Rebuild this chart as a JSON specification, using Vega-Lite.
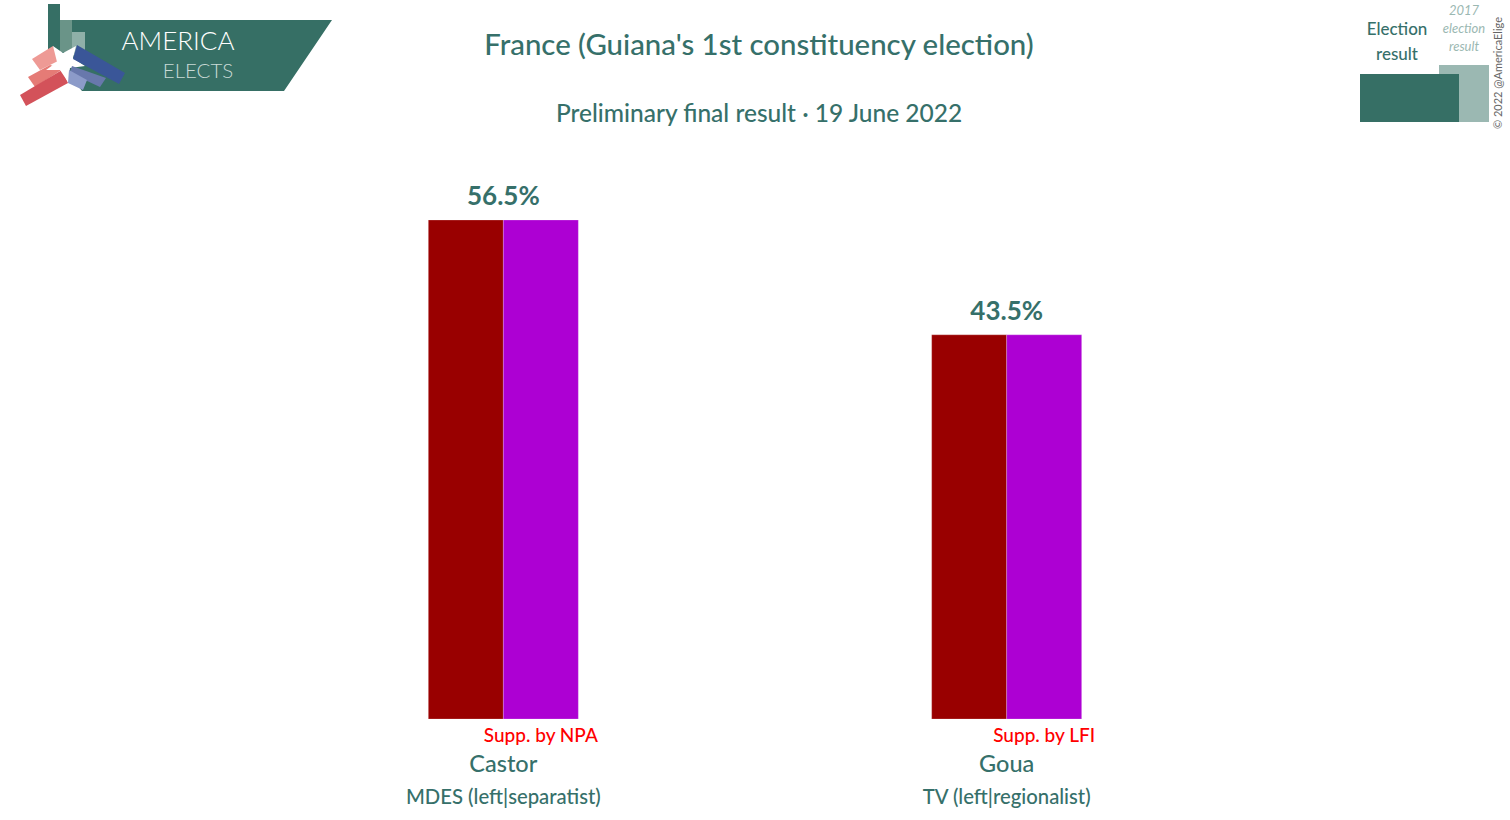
{
  "$schema": "https://vega.github.io/schema/vega-lite/v6.json",
  "width": 1510,
  "height": 820,
  "autosize": {"type": "none"},
  "padding": 0,
  "background": "#ffffff",
  "config": {"view": {"stroke": null}, "font": "Lato"},
  "title": {
    "text": "France (Guiana's 1st constituency election)",
    "subtitle": "Preliminary final result · 19 June 2022",
    "anchor": "middle",
    "frame": "group",
    "dx": 4,
    "offset": -127,
    "font": "Lato",
    "fontSize": 29.4,
    "fontWeight": 500,
    "color": "#36706a",
    "subtitleFont": "Lato",
    "subtitleFontSize": 24.5,
    "subtitleFontWeight": 500,
    "subtitleColor": "#36706a",
    "subtitlePadding": 41
  },
  "datasets": {
    "segments": [
      {"candidate": "Castor", "segment": "party", "share": 56.5, "support": null},
      {"candidate": "Castor", "segment": "supporter", "share": 56.5, "support": "Supp. by NPA"},
      {"candidate": "Goua", "segment": "party", "share": 43.5, "support": null},
      {"candidate": "Goua", "segment": "supporter", "share": 43.5, "support": "Supp. by LFI"}
    ],
    "candidates": [
      {"candidate": "Castor", "share": 56.5, "label": "56.5%", "party": "MDES (left|separatist)"},
      {"candidate": "Goua", "share": 43.5, "label": "43.5%", "party": "TV (left|regionalist)"}
    ],
    "decor": [
      {"type": "Feature", "properties": {"part": "green"}, "geometry": {"type": "Polygon", "coordinates": [[[48, 4], [60, 4], [60, 20], [332, 20], [284, 91], [82, 91], [48, 50], [48, 4]]]}},
      {"type": "Feature", "properties": {"part": "column2"}, "geometry": {"type": "Polygon", "coordinates": [[[60, 20], [72, 20], [72, 52], [60, 52], [60, 20]]]}},
      {"type": "Feature", "properties": {"part": "column3"}, "geometry": {"type": "Polygon", "coordinates": [[[72, 32], [85, 32], [85, 55], [72, 55], [72, 32]]]}},
      {"type": "Feature", "properties": {"part": "red1"}, "geometry": {"type": "Polygon", "coordinates": [[[32, 59], [53, 46], [60, 60], [40, 70], [32, 59]]]}},
      {"type": "Feature", "properties": {"part": "red2"}, "geometry": {"type": "Polygon", "coordinates": [[[28, 77], [50, 65], [63, 69], [35, 87], [28, 77]]]}},
      {"type": "Feature", "properties": {"part": "red3"}, "geometry": {"type": "Polygon", "coordinates": [[[20, 95], [62, 70], [68, 83], [26, 106], [20, 95]]]}},
      {"type": "Feature", "properties": {"part": "star"}, "geometry": {"type": "Polygon", "coordinates": [[[53, 46], [63, 53], [76, 46], [73, 58], [85, 66], [70, 68], [68, 82], [60, 70], [46, 70], [57, 62], [53, 46]]]}},
      {"type": "Feature", "properties": {"part": "blue2"}, "geometry": {"type": "Polygon", "coordinates": [[[72, 66], [106, 78], [100, 87], [85, 80], [70, 72], [72, 66]]]}},
      {"type": "Feature", "properties": {"part": "blue3"}, "geometry": {"type": "Polygon", "coordinates": [[[69, 70], [87, 80], [83, 90], [68, 83], [69, 70]]]}},
      {"type": "Feature", "properties": {"part": "blue1"}, "geometry": {"type": "Polygon", "coordinates": [[[77, 45], [125, 73], [119, 84], [73, 59], [77, 45]]]}},
      {"type": "Feature", "properties": {"part": "previous"}, "geometry": {"type": "Polygon", "coordinates": [[[1439, 65], [1489, 65], [1489, 122], [1439, 122], [1439, 65]]]}},
      {"type": "Feature", "properties": {"part": "green"}, "geometry": {"type": "Polygon", "coordinates": [[[1360, 74], [1459, 74], [1459, 122], [1360, 122], [1360, 74]]]}}
    ]
  },
  "data": {"name": "segments"},
  "resolve": {"scale": {"color": "independent"}},
  "layer": [
    {
      "data": {"name": "decor"},
      "mark": {"type": "geoshape", "strokeWidth": 0},
      "projection": {"type": "identity", "scale": 1, "translate": [0, 0]},
      "encoding": {
        "color": {
          "field": "properties.part",
          "type": "nominal",
          "legend": null,
          "scale": {
            "domain": ["green", "column2", "column3", "red1", "red2", "red3", "star", "blue1", "blue2", "blue3", "previous"],
            "range": ["#366f65", "#6a9488", "#8fb0a8", "#ee9a95", "#e57b76", "#d3525a", "#ffffff", "#3a5698", "#6878ac", "#8c9bc9", "#9bb8b2"]
          }
        }
      }
    },
    {
      "data": {"values": [{"text": "AMERICA", "lon": 178, "lat": 42}]},
      "mark": {"type": "text", "fontSize": 26, "fontWeight": 300, "color": "#ffffff", "baseline": "middle"},
      "projection": {"type": "identity", "scale": 1, "translate": [0, 0]},
      "encoding": {"longitude": {"field": "lon", "type": "quantitative"}, "latitude": {"field": "lat", "type": "quantitative"}, "text": {"field": "text"}}
    },
    {
      "data": {"values": [{"text": "ELECTS", "lon": 198, "lat": 72}]},
      "mark": {"type": "text", "fontSize": 20.5, "fontWeight": 300, "color": "#c9dad6", "baseline": "middle"},
      "projection": {"type": "identity", "scale": 1, "translate": [0, 0]},
      "encoding": {"longitude": {"field": "lon", "type": "quantitative"}, "latitude": {"field": "lat", "type": "quantitative"}, "text": {"field": "text"}}
    },
    {
      "data": {"values": [{"text": "Election", "lon": 1397, "lat": 30}, {"text": "result", "lon": 1397, "lat": 55}]},
      "mark": {"type": "text", "fontSize": 17, "fontWeight": 500, "color": "#36706a", "baseline": "middle"},
      "projection": {"type": "identity", "scale": 1, "translate": [0, 0]},
      "encoding": {"longitude": {"field": "lon", "type": "quantitative"}, "latitude": {"field": "lat", "type": "quantitative"}, "text": {"field": "text"}}
    },
    {
      "data": {"values": [{"text": "2017", "lon": 1464, "lat": 11}, {"text": "election", "lon": 1464, "lat": 29}, {"text": "result", "lon": 1464, "lat": 47}]},
      "mark": {"type": "text", "fontSize": 13, "fontStyle": "italic", "color": "#9bb8b2", "baseline": "middle"},
      "projection": {"type": "identity", "scale": 1, "translate": [0, 0]},
      "encoding": {"longitude": {"field": "lon", "type": "quantitative"}, "latitude": {"field": "lat", "type": "quantitative"}, "text": {"field": "text"}}
    },
    {
      "data": {"values": [{"text": "© 2022 @AmericaElige", "lon": 1499, "lat": 73}]},
      "mark": {"type": "text", "fontSize": 11, "angle": 270, "color": "#666666", "baseline": "middle"},
      "projection": {"type": "identity", "scale": 1, "translate": [0, 0]},
      "encoding": {"longitude": {"field": "lon", "type": "quantitative"}, "latitude": {"field": "lat", "type": "quantitative"}, "text": {"field": "text"}}
    },
    {
      "mark": {"type": "bar", "stroke": "#ffffff", "strokeWidth": 0.5, "strokeOpacity": 0.4},
      "encoding": {
        "x": {
          "field": "candidate",
          "type": "nominal",
          "axis": null,
          "scale": {"domain": ["Castor", "Goua"], "paddingInner": 0.702, "paddingOuter": 0.851}
        },
        "xOffset": {"field": "segment", "type": "nominal", "scale": {"domain": ["party", "supporter"], "paddingInner": 0, "paddingOuter": 0}},
        "y": {
          "field": "share",
          "type": "quantitative",
          "stack": null,
          "axis": null,
          "scale": {"domain": [-11.44, 81.42], "nice": false, "zero": false}
        },
        "color": {
          "field": "segment",
          "type": "nominal",
          "legend": null,
          "scale": {"domain": ["party", "supporter"], "range": ["#990000", "#ad00d3"]}
        }
      }
    },
    {
      "transform": [{"filter": "datum.support != null"}],
      "mark": {"type": "text", "fontSize": 19, "fontWeight": 500, "color": "#ff0000", "baseline": "middle", "dy": 17},
      "encoding": {
        "x": {"field": "candidate", "type": "nominal"},
        "xOffset": {"field": "segment", "type": "nominal"},
        "y": {"datum": 0, "type": "quantitative"},
        "text": {"field": "support"}
      }
    },
    {
      "data": {"name": "candidates"},
      "mark": {"type": "text", "fontSize": 26, "fontWeight": 700, "color": "#36706a", "baseline": "middle", "dy": -23},
      "encoding": {
        "x": {"field": "candidate", "type": "nominal"},
        "y": {"field": "share", "type": "quantitative"},
        "text": {"field": "label"}
      }
    },
    {
      "data": {"name": "candidates"},
      "mark": {"type": "text", "fontSize": 23.5, "fontWeight": 500, "color": "#36706a", "baseline": "middle", "dy": 46},
      "encoding": {
        "x": {"field": "candidate", "type": "nominal"},
        "y": {"datum": 0, "type": "quantitative"},
        "text": {"field": "candidate"}
      }
    },
    {
      "data": {"name": "candidates"},
      "mark": {"type": "text", "fontSize": 20.3, "fontWeight": 500, "color": "#36706a", "baseline": "middle", "dy": 79},
      "encoding": {
        "x": {"field": "candidate", "type": "nominal"},
        "y": {"datum": 0, "type": "quantitative"},
        "text": {"field": "party"}
      }
    }
  ]
}
